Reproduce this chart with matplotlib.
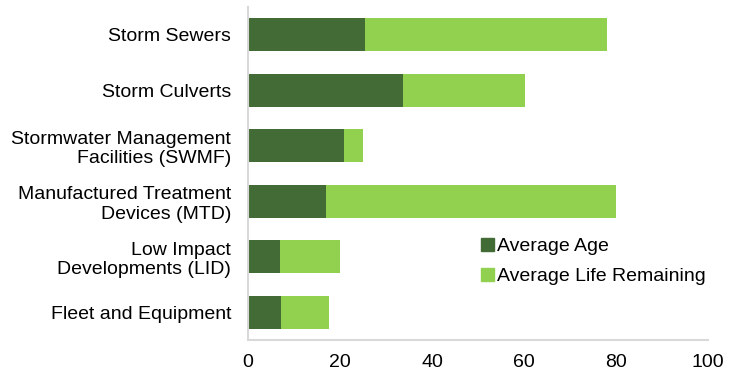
import matplotlib
matplotlib.use("Agg")
import matplotlib.pyplot as plt
from matplotlib.patches import Patch

categories = [
    "Storm Sewers",
    "Storm Culverts",
    "Stormwater Management\nFacilities (SWMF)",
    "Manufactured Treatment\nDevices (MTD)",
    "Low Impact\nDevelopments (LID)",
    "Fleet and Equipment",
]
average_age = [25.4, 33.7, 20.9, 17.0, 7.0, 7.2]
life_remaining = [52.6, 26.5, 4.1, 63.0, 13.0, 10.3]
series_labels = ["Average Age", "Average Life Remaining"]
x_ticks = [0, 20, 40, 60, 80, 100]

dark = "#436B36"
light = "#92D050"

plt.rcParams["font.family"] = ["Liberation Sans", "DejaVu Sans"]

fig = plt.figure(figsize=(7.41, 3.73), dpi=100)
ax = fig.add_axes([248 / 741, 33 / 373, 460 / 741, 333 / 373])

pos = list(range(len(categories)))[::-1]
ax.barh(pos, average_age, height=0.6, color=dark)
ax.barh(pos, life_remaining, left=average_age, height=0.6, color=light)

ax.set_xlim(0, 100)
ax.set_ylim(-0.5, len(categories) - 0.5)
ax.set_xticks(x_ticks)
ax.set_yticks(pos)
ax.set_yticklabels(categories, fontsize=14, ha="right")
ax.tick_params(axis="x", labelsize=14, length=0, pad=10, colors="#000000")
ax.tick_params(axis="y", length=0, pad=12)

for side in ["top", "right"]:
    ax.spines[side].set_visible(False)
for side in ["left", "bottom"]:
    ax.spines[side].set_color("#D9D9D9")
    ax.spines[side].set_linewidth(1.5)

handles = [Patch(color=dark), Patch(color=light)]
ax.legend(handles, series_labels, loc="upper left", bbox_to_anchor=(0.49, 0.33),
          frameon=False, fontsize=14, handlelength=0.65, handleheight=0.65,
          handletextpad=0.15, labelspacing=0.65, borderaxespad=0)

fig.savefig("out.png", dpi=100)
plt.close(fig)
